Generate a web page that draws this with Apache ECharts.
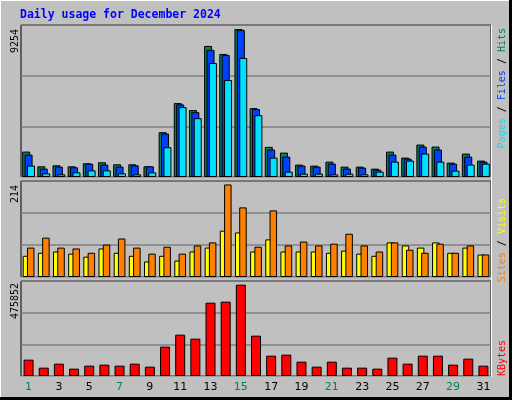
<!DOCTYPE html>
<html><head><meta charset="utf-8">
<script src="https://cdn.jsdelivr.net/npm/echarts@6/dist/echarts.min.js"></script>
<style>html,body{margin:0;padding:0;background:#C0C0C0}#c{width:512px;height:400px}</style>
</head><body><div id="c"></div>
<script>
const days = ['1','2','3','4','5','6','7','8','9','10','11','12','13','14','15','16','17','18','19','20','21','22','23','24','25','26','27','28','29','30','31'];
const weekend = ['1','7','8','14','15','21','22','28','29'];
const hits  = [1589,669,732,669,857,920,795,795,669,2802,4621,4182,8197,7695,9254,4307,1882,1527,774,711,962,648,648,523,1589,1213,2028,1903,899,1464,1025];
const files = [1401,523,648,606,836,774,648,732,669,2718,4537,4056,7946,7632,9200,4245,1715,1276,711,648,836,523,585,460,1401,1150,1903,1715,836,1276,962];
const pages = [711,230,167,293,418,418,230,167,293,1861,4370,3680,7130,6064,7444,3868,1213,335,209,209,167,209,167,335,962,1025,1464,962,397,774,836];
const sites  = [49,56,59,54,47,66,56,49,36,49,38,59,68,107,103,59,87,59,59,59,56,61,54,49,80,73,68,80,56,68,52];
const visits = [68,91,68,66,56,75,89,68,54,70,54,73,80,214,161,70,154,73,82,73,77,100,73,59,80,63,56,77,56,73,52];
const kbytes = [85113,43425,64269,38214,53847,59058,53847,64269,48636,152856,215388,194544,382140,387351,475852,210177,105957,111168,74691,48636,74691,43425,43425,38214,95535,64269,105957,105957,59058,90324,53847];
const maxLabels = ['9254','214','475852'];

const mono = 'DejaVu Sans Mono';
const grids = [
  {left:21,right:21,top:25,height:152},
  {left:21,right:21,top:181,height:96},
  {left:21,right:21,top:281,height:95}
].map(g=>Object.assign(g,{show:true,borderColor:'#000',borderWidth:1,backgroundColor:'#C0C0C0'}));
const yMax=[9505,222,495000];
const xAxes=[0,1,2].map(i=>({type:'category',gridIndex:i,data:days,boundaryGap:true,
  axisLine:{show:false},axisTick:{show:false},
  axisLabel:{show:i===2,margin:6,fontFamily:'DejaVu Sans',fontSize:11,
    color:(v)=>weekend.includes(v)?'#00805C':'#000'}}));
const yAxes=[0,1,2].map(i=>({type:'value',gridIndex:i,min:0,max:yMax[i],interval:yMax[i]/3,
  axisLabel:{show:false},axisLine:{show:false},axisTick:{show:false},
  splitLine:{show:true,lineStyle:{color:'#808080',width:1.5}}}));
const bs={borderColor:'#000',borderWidth:1};
const series=[
  {type:'bar',xAxisIndex:0,yAxisIndex:0,data:hits,barWidth:8,barGap:'-70%',itemStyle:Object.assign({color:'#00805C'},bs)},
  {type:'bar',xAxisIndex:0,yAxisIndex:0,data:files,barWidth:8,barGap:'-70%',itemStyle:Object.assign({color:'#0040FF'},bs)},
  {type:'bar',xAxisIndex:0,yAxisIndex:0,data:pages,barWidth:8,barGap:'-70%',itemStyle:Object.assign({color:'#00E0FF'},bs)},
  {type:'bar',xAxisIndex:1,yAxisIndex:1,data:sites,barWidth:7.5,barGap:'-43%',itemStyle:Object.assign({color:'#FFFF00'},bs)},
  {type:'bar',xAxisIndex:1,yAxisIndex:1,data:visits,barWidth:7.5,barGap:'-43%',itemStyle:Object.assign({color:'#FF8000'},bs)},
  {type:'bar',xAxisIndex:2,yAxisIndex:2,data:kbytes,barWidth:10,itemStyle:Object.assign({color:'#FF0000'},bs)}
].map(s=>Object.assign(s,{silent:true,animation:false}));

const vt=(x,y,txt,rich)=>({type:'text',x:x,y:y,rotation:Math.PI/2,
  style:{text:txt,rich:rich,font:'10px '+mono,align:'right',verticalAlign:'middle',fill:'#000'}});
const graphic=[
  {type:'line',shape:{x1:0,y1:0.5,x2:511,y2:0.5},style:{stroke:'#fff',lineWidth:1}},
  {type:'line',shape:{x1:0.5,y1:0,x2:0.5,y2:399},style:{stroke:'#fff',lineWidth:1}},
  {type:'line',shape:{x1:0,y1:398.5,x2:512,y2:398.5},style:{stroke:'#000',lineWidth:3}},
  {type:'line',shape:{x1:510.5,y1:0,x2:510.5,y2:400},style:{stroke:'#000',lineWidth:3}},
  {type:'line',shape:{x1:21,y1:177.5,x2:492,y2:177.5},style:{stroke:'#fff',lineWidth:1}},
  {type:'line',shape:{x1:491.5,y1:25,x2:491.5,y2:377},style:{stroke:'#fff',lineWidth:1}},
  {type:'line',shape:{x1:21,y1:277.5,x2:492,y2:277.5},style:{stroke:'#fff',lineWidth:1}},
  {type:'line',shape:{x1:21,y1:376.5,x2:492,y2:376.5},style:{stroke:'#fff',lineWidth:1}},
  {type:'text',x:20,y:15,style:{text:'Daily usage for December 2024',font:'bold 11.5px '+mono,fill:'#0000FF',verticalAlign:'middle'}},
  vt(15,29,maxLabels[0]),vt(15,185,maxLabels[1]),vt(15,283,maxLabels[2]),
  vt(502,28,'{p|Pages}{s| / }{f|Files}{s| / }{h|Hits}',{p:{fill:'#00E0FF',font:'10px '+mono},s:{fill:'#000',font:'10px '+mono},f:{fill:'#0040FF',font:'10px '+mono},h:{fill:'#00805C',font:'10px '+mono}}),
  vt(502,198,'{a|Sites}{s| / }{b|Visits}',{a:{fill:'#FF8000',font:'10px '+mono},s:{fill:'#000',font:'10px '+mono},b:{fill:'#FFFF00',font:'10px '+mono}}),
  vt(502,340,'{k|KBytes}',{k:{fill:'#FF0000',font:'10px '+mono}})
];
const chart=echarts.init(document.getElementById('c'),null,{renderer:'canvas'});
chart.setOption({animation:false,backgroundColor:'#C0C0C0',grid:grids,xAxis:xAxes,yAxis:yAxes,series:series,graphic:graphic});
</script></body></html>
